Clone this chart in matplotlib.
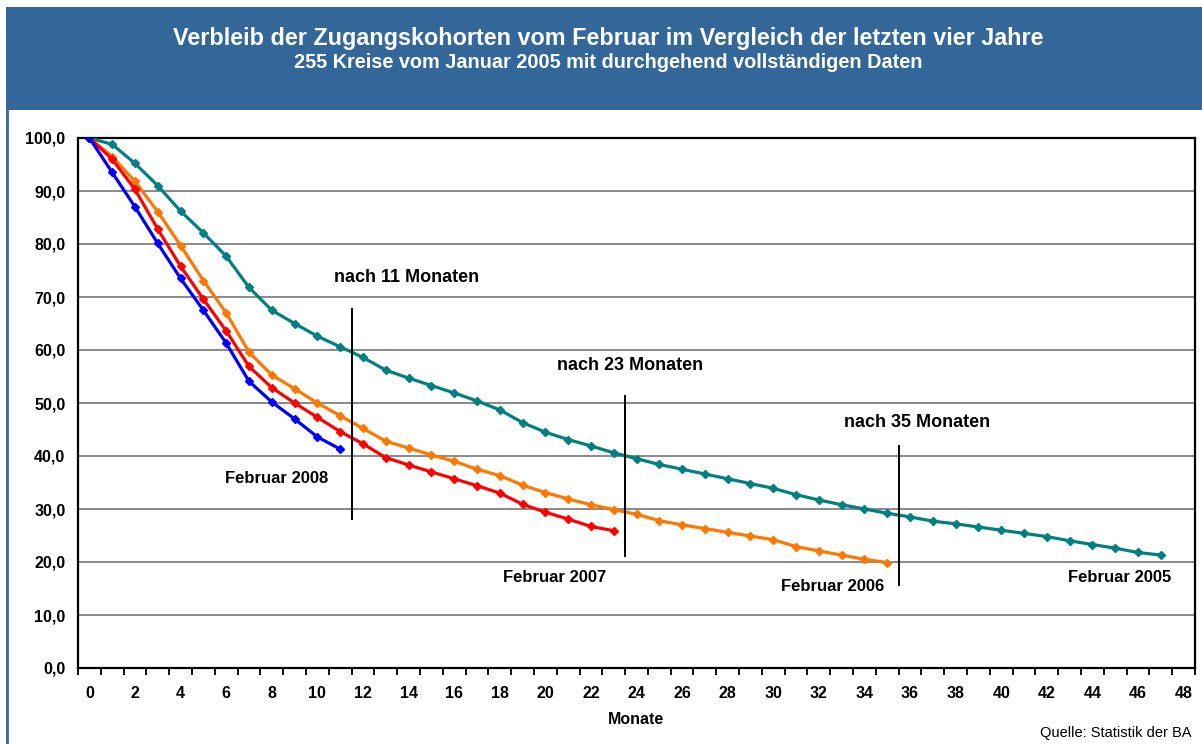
import numpy as np
import matplotlib
matplotlib.use("Agg")
import matplotlib.pyplot as plt
from matplotlib.patches import Rectangle
from matplotlib.lines import Line2D

plt.rcParams['font.family'] = ['Liberation Sans', 'DejaVu Sans']

# Verbleib in Prozent, je Monat nach Zugang
feb_2005 = [100.0, 98.8, 95.2, 91.0, 86.2, 82.1, 77.7, 71.8, 67.5, 65.0,
            62.6, 60.6, 58.6, 56.2, 54.7, 53.3, 51.9, 50.4, 48.7, 46.3,
            44.5, 43.1, 41.9, 40.6, 39.5, 38.4, 37.5, 36.6, 35.7, 34.8,
            33.9, 32.7, 31.7, 30.8, 30.0, 29.2, 28.5, 27.7, 27.2, 26.6,
            26.0, 25.4, 24.8, 24.0, 23.3, 22.6, 21.8, 21.3]
feb_2006 = [100.0, 96.5, 91.8, 86.1, 79.7, 73.1, 67.0, 59.6, 55.3, 52.7,
            50.0, 47.6, 45.2, 42.8, 41.5, 40.2, 39.0, 37.5, 36.3, 34.5,
            33.1, 31.9, 30.8, 29.9, 29.0, 27.8, 27.0, 26.3, 25.6, 24.9,
            24.2, 22.9, 22.1, 21.3, 20.5, 19.9]
feb_2007 = [100.0, 96.0, 90.3, 82.8, 75.8, 69.6, 63.6, 56.9, 52.9, 50.0,
            47.3, 44.6, 42.3, 39.7, 38.3, 37.0, 35.7, 34.4, 33.0, 30.9,
            29.4, 28.1, 26.7, 25.9]
feb_2008 = [100.0, 93.5, 87.0, 80.1, 73.5, 67.5, 61.3, 54.1, 50.2, 47.0,
            43.6, 41.3]

series_names = ['Februar 2005', 'Februar 2006', 'Februar 2007', 'Februar 2008']
series_colors = ['#008080', '#FF7700', '#FF0000', '#0000FF']

# Markierungen "nach n Monaten"
marker_x = [11.5, 23.5, 35.5]
marker_bottom = [28.0, 21.0, 15.5]
marker_top = [68.0, 51.5, 42.0]
marker_texts = ['nach 11 Monaten', 'nach 23 Monaten', 'nach 35 Monaten']
marker_text_pos = [(13.9, 73.6), (23.7, 57.0), (36.3, 46.4)]
name_pos = [(45.2, 17.0), (32.6, 15.3), (20.4, 17.0), (8.2, 35.8)]

W, H = 1202, 744
fig = plt.figure(figsize=(W / 100, H / 100), dpi=100)

# Kopfbalken und Rahmen
fig.patches.append(Rectangle((6 / W, 1 - 110 / H), 1, 103 / H,
                             transform=fig.transFigure, facecolor='#336699',
                             edgecolor='none', zorder=0))
fig.lines.append(Line2D([7 / W, 7 / W], [0, 1 - 110 / H], transform=fig.transFigure,
                        color='#336699', lw=2))
fig.text(608 / W, 1 - 38 / H,
         'Verbleib der Zugangskohorten vom Februar im Vergleich der letzten vier Jahre',
         ha='center', va='center', color='white', fontsize=16.8, fontweight='bold')
fig.text(608 / W, 1 - 63 / H,
         '255 Kreise vom Januar 2005 mit durchgehend vollständigen Daten',
         ha='center', va='center', color='white', fontsize=14.3, fontweight='bold')

ax = fig.add_axes([78 / W, 1 - 668 / H, (1195 - 78) / W, (668 - 138) / H])

all_series = [feb_2005, feb_2006, feb_2007, feb_2008]
for vals, name, col in zip(all_series, series_names, series_colors):
    ax.plot(range(len(vals)), vals, color=col, lw=2.3, marker='D', markersize=4.5,
            label=name, zorder=3)

for (tx, ty), name in zip(name_pos, series_names):
    ax.text(tx, ty, name, ha='center', va='center', fontsize=12, fontweight='bold')

ax.vlines(marker_x, marker_bottom, marker_top, color='black', lw=1.4, zorder=4)
for (tx, ty), txt in zip(marker_text_pos, marker_texts):
    ax.text(tx, ty, txt, ha='center', va='center', fontsize=13, fontweight='bold')

ax.set_xlim(-0.5, 48.5)
ax.set_ylim(0, 100)

ax.set_xticks(np.arange(-0.5, 49, 1))
ax.set_xticklabels([])
ax.set_xticks(np.arange(0, 49, 2), minor=True)
ax.set_xticklabels([str(v) for v in range(0, 49, 2)], minor=True)
ax.tick_params(axis='x', which='major', length=5, width=1.3, direction='out')
ax.tick_params(axis='x', which='minor', length=0, pad=13, labelsize=11.5)
for lbl in ax.get_xticklabels(minor=True):
    lbl.set_fontweight('bold')

ax.set_yticks(np.arange(0, 101, 10))
ax.set_yticklabels([f'{v:.1f}'.replace('.', ',') for v in range(0, 101, 10)])
ax.tick_params(axis='y', length=0, pad=9, labelsize=11.5)
for lbl in ax.get_yticklabels():
    lbl.set_fontweight('bold')

ax.grid(axis='y', color='#808080', lw=1.3)
ax.set_axisbelow(True)
for sp in ax.spines.values():
    sp.set_color('black')
    sp.set_linewidth(1.6)

fig.text(636 / W, 1 - 719 / H, 'Monate', ha='center', va='center',
         fontsize=11.5, fontweight='bold')
fig.text(1192 / W, 1 - 733 / H, 'Quelle: Statistik der BA', ha='right', va='center',
         fontsize=10.5)

fig.savefig('out.png', dpi=100)
